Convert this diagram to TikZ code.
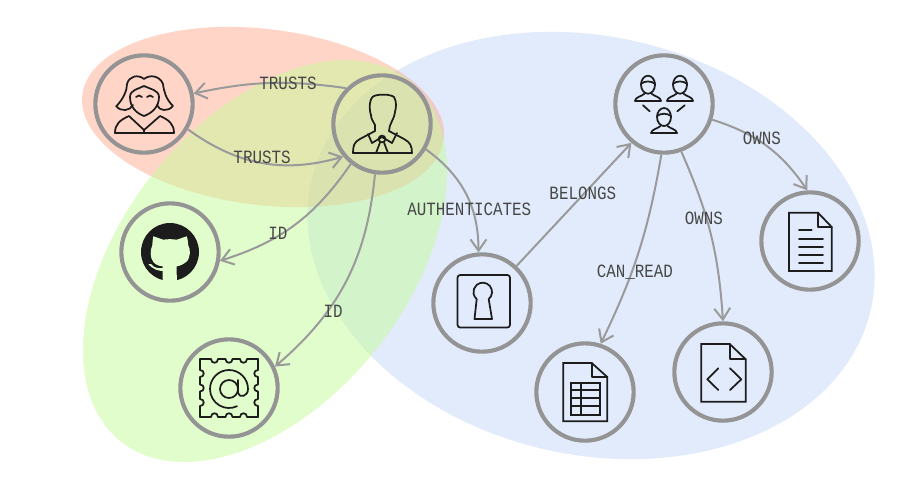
\documentclass[tikz,border=0pt]{standalone}
\usepackage{tikz}
\usepackage{fontspec}
\usetikzlibrary{arrows.meta}
\newfontfamily\labelfont{Liberation Mono}
\definecolor{hubgray}{HTML}{949494}
\definecolor{linkgray}{HTML}{9A9A9A}
\definecolor{iconink}{HTML}{1C1C1C}
\definecolor{setred}{RGB}{255,171,145}
\definecolor{setgreen}{RGB}{197,251,153}
\definecolor{setblue}{RGB}{195,215,247}
\definecolor{catbg}{RGB}{226,253,204}
\tikzset{
  hub/.style={shape=circle, draw=hubgray, line width=3.1pt, minimum size=73pt, inner sep=0pt},
  link/.style={draw=linkgray, line width=1.5pt, -{Straight Barb[length=8.5pt,width=12pt,line width=1.5pt]}},
  linklabel/.style={font=\fontsize{11.9}{14}\labelfont, text=black!72, inner sep=0pt, yscale=1.18, transform shape},
  icon/.style={draw=iconink, line width=1.3pt, line join=round, line cap=round},
  person/.pic={
    \draw[icon] (0,0) ellipse [x radius=7, y radius=9];
    \draw[icon] (-7,-1) .. controls (-3,-4) and (3,-4) .. (7,-1);
    \draw[icon] (-13,16) -- (13,16);
    \draw[icon] (-13,16) .. controls (-12,12) and (-7,12) .. (-3.5,9);
    \draw[icon] (13,16) .. controls (12,12) and (7,12) .. (3.5,9);
  }
}
\begin{document}
\begin{tikzpicture}[x=0.75pt, y=-0.75pt]
            \useasboundingbox (0,0) rectangle (919,487);
            \fill[setblue, opacity=0.5, rotate around={-13:(591,245.5)}] (591,245.5) ellipse [x radius=287, y radius=209];
            \fill[setred, opacity=0.5, rotate around={-7:(263,117)}] (263,117) ellipse [x radius=182, y radius=88];
            \fill[setgreen, opacity=0.5, rotate around={51.3:(265,261)}] (265,261) ellipse [x radius=231, y radius=142];

            \node[hub] (woman) at (144,104) {};
            \node[hub] (man) at (382,124) {};
            \node[hub] (github) at (170,252) {};
            \node[hub] (email) at (229,388) {};
            \node[hub] (keyhole) at (482,303) {};
            \node[hub] (sheet) at (585,392) {};
            \node[hub] (code) at (723,372) {};
            \node[hub] (document) at (810,241) {};
            \node[hub] (team) at (664,104) {};

            \begin{scope}[shift={(woman)}]
                \draw[icon] (-27.7,2.3) .. controls (-20,-6) and (-17,-14) .. (-17,-20) .. controls (-15,-28) and (-6,-30) .. (0,-25) .. controls (6,-30) and (16,-28) .. (19,-20) .. controls (20,-12) and (22,-5) .. (29,2) .. controls (24,8) and (15,7) .. (13,1);
                \draw[icon] (-27.7,2.3) .. controls (-23,8) and (-14,7) .. (-11,1);
                \draw[icon] (-14,-7) .. controls (-14,-14) and (-6,-15) .. (0,-18) .. controls (6,-15) and (15,-14) .. (15,-7) .. controls (15,3) and (8,9) .. (0,12) .. controls (-8,9) and (-14,3) .. (-14,-7);
                \draw[icon] (-8,-7) .. controls (-6,-9) and (-4,-9) .. (-2,-7);
                \draw[icon] (3,-7) .. controls (5,-9) and (7,-9) .. (9,-7);
                \draw[icon] (-29,29) -- (30,29);
                \draw[icon] (-29,29) .. controls (-29,20) and (-24,16) .. (-15,12) -- (0,26) -- (16,12) .. controls (25,16) and (30,20) .. (30,29);
                \draw[icon] (0,26) -- (0,29);
            \end{scope}

            \begin{scope}[shift={(man)}]
                \draw[icon] (-7,7) -- (-7,1) .. controls (-9,-3) and (-11,-5) .. (-11,-9) .. controls (-13,-14) and (-13,-26) .. (-8,-28) .. controls (-3,-30) and (8,-30) .. (12,-27) .. controls (15,-22) and (14,-16) .. (13,-12) .. controls (12,-4) and (7,0) .. (7,7);
                \draw[icon] (-29,29) -- (30,29);
                \draw[icon] (-29,29) .. controls (-29,22) and (-28,18) .. (-22,15) -- (-7,7);
                \draw[icon] (30,29) .. controls (30,22) and (28,18) .. (22,15) -- (7,7);
                \draw[icon] (-14,10) -- (-10,19) -- (0,13) -- (10,19) -- (15,9);
                \draw[icon] (0,15) circle [radius=3.4];
                \draw[icon] (-2,18.5) -- (-6,29);
                \draw[icon] (2,18.5) -- (6,29);
            \end{scope}

            \begin{scope}[shift={(github)}]
                \fill[iconink] (0,0) circle [radius=29];
                \fill[catbg] (-16.7,-15.7) -- (-6.7,-12.3) .. controls (-2,-13) and (2,-13) .. (6.7,-12.3) -- (16.7,-15.7) .. controls (18,-12) and (18,-9) .. (18.3,-6.7) .. controls (21,-2) and (20,5) .. (17.3,9) .. controls (14,12) and (10,14) .. (6.7,14.3) .. controls (6.7,20) and (6.7,25) .. (7,30) -- (-7.3,30) -- (-7.3,19) .. controls (-12,19) and (-17,17) .. (-21.7,12.3) -- (-19,12) .. controls (-16,16) and (-12,16.5) .. (-7.3,16) -- (-7.3,14.3) .. controls (-12,14) and (-15,12) .. (-16.7,10) .. controls (-20,6) and (-20,-2) .. (-17.7,-6.7) .. controls (-17.5,-9) and (-17.5,-12) .. (-16.7,-15.7) -- cycle;
            \end{scope}

            \begin{scope}[shift={(email)}]
                \foreach \a in {0,90,180,270} {
                    \draw[icon, rotate=\a] (-29,-29) -- (-18,-29) .. controls (-18,-24) and (-11,-24) .. (-11,-29) -- (-3.5,-29) .. controls (-3.5,-24) and (3.5,-24) .. (3.5,-29) -- (11,-29) .. controls (11,-24) and (18,-24) .. (18,-29) -- (29,-29);
                }
                \draw[icon] (0,1) circle [radius=9];
                \draw[icon] (9,-8) -- (9,5) .. controls (10,10) and (19,9) .. (19,1) arc [start angle=0, end angle=-295, radius=19];
            \end{scope}

            \begin{scope}[shift={(keyhole)}]
                \draw[icon, rounded corners=2pt] (-24.5,-28) rectangle (28,24.5);
                \draw[icon] (-5.3,-3.9) -- (-7.5,16) -- (10,16) -- (6.7,-3.9) arc [start angle=50, end angle=-230, radius=9.3];
            \end{scope}

            \begin{scope}[shift={(sheet)}]
                \draw[icon, line cap=butt, line join=miter] (-21.7,-29) -- (6.7,-29) -- (22.3,-15) -- (22.3,29.3) -- (-21.7,29.3) -- cycle;
                \draw[icon] (6.7,-29) -- (6.7,-15) -- (22.3,-15);
                \draw[icon, line cap=butt, line join=miter] (-13.7,-9) rectangle (15,23.3);
                \draw[icon] (-3.7,-9) -- (-3.7,23.3);
                \foreach \y in {-1.7,6,14} {
                    \draw[icon] (-13.7,\y) -- (15,\y);
                }
            \end{scope}

            \begin{scope}[shift={(code)}]
                \draw[icon, line cap=butt, line join=miter] (-21.7,-28) -- (6.7,-28) -- (22.7,-12.7) -- (22.7,29.7) -- (-21.7,29.7) -- cycle;
                \draw[icon] (6.7,-28) -- (6.7,-12.7) -- (22.7,-12.7);
                \draw[icon] (-4.7,-3.7) -- (-15.7,7.3) -- (-4.7,18);
                \draw[icon] (7,-3.7) -- (18.3,7.3) -- (7,18);
            \end{scope}

            \begin{scope}[shift={(document)}]
                \draw[icon, line cap=butt, line join=miter] (-21,-28.3) -- (8,-28.3) -- (21.7,-14) -- (21.7,30) -- (-21,30) -- cycle;
                \draw[icon] (8,-28.3) -- (8,-14) -- (21.7,-14);
                \draw[icon] (-11,-10.7) -- (1.7,-10.7);
                \foreach \y in {-2.3,5.7,13.7,21.7} {
                    \draw[icon] (-11,\y) -- (13,\y);
                }
            \end{scope}

            \begin{scope}[shift={(team)}]
                \pic at (-16,-19.3) {person};
                \pic at (16,-19.3) {person};
                \pic at (0,13) {person};
                \draw[icon] (-21,1.3) -- (-14.3,7.3);
                \draw[icon] (20.7,1.3) -- (13.3,7.3);
            \end{scope}

            \draw[link] (man.135) to [bend right=10] node [linklabel, pos=0.37] (trustsback) {TRUSTS} (woman.12);
            \draw[link] (woman.-30) to [bend right=26] node [linklabel, pos=0.5, yshift=3.5pt] (trusts) {TRUSTS} (man.220);
            \draw[link] (man.232) to [bend left=19] node [linklabel, pos=0.6, xshift=-3pt] (idgithub) {ID} (github.-10);
            \draw[link] (man.262) to [bend left=22] node [linklabel, pos=0.65, xshift=2.5pt, yshift=-2.3pt] (idemail) {ID} (email.25);
            \draw[link] (man.-30) to [bend left=27] node [linklabel, pos=0.5, xshift=2.5pt, yshift=-10pt] (authenticates) {AUTHENTICATES} (keyhole.94);
            \draw[link] (keyhole.47) to node [linklabel, pos=0.6, xshift=-2pt, yshift=-1pt] (belongs) {BELONGS} (team.230);
            \draw[link] (team.267) to [bend left=8] node [linklabel, pos=0.6, xshift=1.5pt, yshift=-2pt] (canread) {CAN\_READ} (sheet.72);
            \draw[link] (team.-70) to [bend left=10] node [linklabel, pos=0.4, xshift=-2pt] (ownscode) {OWNS} (code.90);
            \draw[link] (team.-18) to [bend left=19] node [linklabel, pos=0.45, yshift=3pt] (ownsdoc) {OWNS} (document.93);
        \end{tikzpicture}
\end{document}
